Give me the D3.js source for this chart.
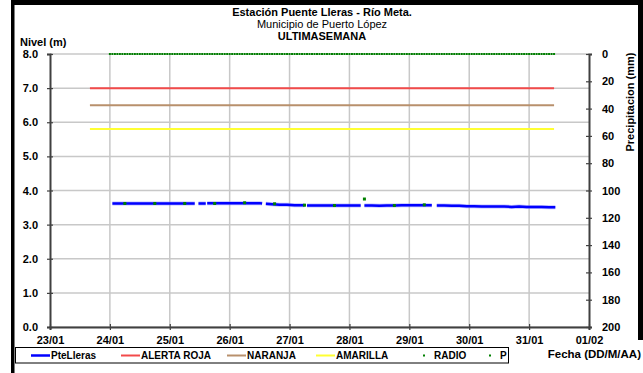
<!DOCTYPE html>
<html><head><meta charset="utf-8">
<script src="https://cdn.jsdelivr.net/npm/d3@7"></script>
<style>
html,body{margin:0;padding:0;background:#fff;}
svg{display:block;font-family:"Liberation Sans",Arial,sans-serif;}
</style></head>
<body>
<svg id="c" width="643" height="373"></svg>
<script>
// ---- data ----
const titleLines = ["Estación Puente Lleras - Río Meta.", "Municipio de Puerto López", "ULTIMASEMANA"];
const startDate = new Date(2013, 0, 24, 0, 0); // hours below are offsets from 24/01 00:00
const xDomainDates = [new Date(2013, 0, 23), new Date(2013, 1, 1)];
const levelTicks = [0, 1, 2, 3, 4, 5, 6, 7, 8];
const precipTicks = [0, 20, 40, 60, 80, 100, 120, 140, 160, 180, 200];

// PteLleras level (m): hour offset, value (null = gap)
const levelHours = [1, 4, 7, 10, 13, 16, 19, 22, 25, 28, 31, 34, 34.8,
  35.5, 38.4, 38.8,
  39, 42, 45, 48, 51, 54, 57, 60, 61, 61.6,
  62.5, 65, 68, 71, 74, 78, 78.6,
  79, 82, 85, 88, 91, 94, 97, 100.5, 101,
  102, 105, 108, 111, 114, 117, 120, 123, 126, 129, 130,
  131, 134, 137, 140, 143, 146, 149, 152, 155, 158, 161, 164, 167, 170, 173, 176, 178.5];
const levelValues = [3.62, 3.62, 3.62, 3.62, 3.62, 3.62, 3.62, 3.62, 3.62, 3.62, 3.62, 3.62, null,
  3.62, 3.62, null,
  3.63, 3.63, 3.63, 3.63, 3.63, 3.63, 3.63, 3.63, 3.62, null,
  3.61, 3.60, 3.58, 3.58, 3.57, 3.57, null,
  3.56, 3.56, 3.56, 3.56, 3.56, 3.56, 3.56, 3.56, null,
  3.56, 3.56, 3.55, 3.56, 3.56, 3.57, 3.57, 3.57, 3.57, 3.57, null,
  3.56, 3.56, 3.55, 3.55, 3.54, 3.54, 3.53, 3.53, 3.53, 3.53, 3.52, 3.53, 3.52, 3.52, 3.52, 3.51, 3.51];

// RADIO readings on level axis
const radioHours = [6, 18, 30, 42, 54, 66, 78, 90, 102, 114, 126];
const radioValues = [3.62, 3.62, 3.62, 3.62, 3.64, 3.61, 3.57, 3.56, 3.75, 3.56, 3.58];

// P precipitation (mm), hourly from 24/01 00:00 (179 readings)
const precipValues = [
  0,0,0,0,0,0,0,0,0,0,0,0,0,0,0,0,0,0,0,0,0,0,0,0,
  0,0,0,0,0,0,0,0,0,0,0,0,0,0,0,0,0,0,0,0,0,0,0,0,
  0,0,0,0,0,0,0,0,0,0,0,0,0,0,0,0,0,0,0,0,0,0,0,0,
  0,0,0,0,0,0,0,0,0,0,0,0,0,0,0,0,0,0,0,0,0,0,0,0,
  0,0,0,0,0,0,0,0,0,0,0,0,0,0,0,0,0,0,0,0,0,0,0,0,
  0,0,0,0,0,0,0,0,0,0,0,0,0,0,0,0,0,0,0,0,0,0,0,0,
  0,0,0,0,0,0,0,0,0,0,0,0,0,0,0,0,0,0,0,0,0,0,0,0,
  0,0,0,0,0,0,0,0,0,0,0];

// alert thresholds (m) and their time span (hour offsets)
const alertNames = ["ALERTA ROJA", "NARANJA", "AMARILLA"];
const alertLevels = [7.0, 6.5, 5.8];
const alertColors = ["#f24a4a", "#b8906c", "#ffff33"];
const alertSpanHours = [-8, 178];

const legendNames = ["PteLleras", "ALERTA ROJA", "NARANJA", "AMARILLA", "RADIO", "P"];

// ---- chart ----
const svg = d3.select("#c");
const hr = h => new Date(startDate.getTime() + h * 3600000);

const x = d3.scaleTime().domain(xDomainDates).range([50, 589]);
const yL = d3.scaleLinear().domain([0, 8]).range([327, 54]);
const yR = d3.scaleLinear().domain([0, 200]).range([54, 327]);

// frame
svg.append("rect").attr("x", 0).attr("y", 0).attr("width", 643).attr("height", 373).attr("fill", "#fff");
svg.append("rect").attr("x", 11).attr("y", 0).attr("width", 3.5).attr("height", 373).attr("fill", "#000");
svg.append("rect").attr("x", 11).attr("y", 0).attr("width", 632).attr("height", 5).attr("fill", "#000");
svg.append("rect").attr("x", 638).attr("y", 0).attr("width", 5).attr("height", 340).attr("fill", "#000");

// gridlines
const grid = svg.append("g");
grid.selectAll("line.h").data(levelTicks).join("line")
  .attr("x1", 50).attr("x2", 589).attr("y1", d => yL(d)).attr("y2", d => yL(d))
  .attr("stroke", "#c8c8c8").attr("stroke-width", 1.5);
const days = d3.timeDay.range(xDomainDates[0], d3.timeDay.offset(xDomainDates[1], 1));
grid.selectAll("line.v").data(days.slice(1, -1)).join("line")
  .attr("x1", d => x(d)).attr("x2", d => x(d)).attr("y1", 54).attr("y2", 327)
  .attr("stroke", "#c8c8c8").attr("stroke-width", 1.5);

// axes
const axStyle = g => {
  g.select(".domain").attr("stroke", "#404040").attr("stroke-width", 2);
  g.selectAll(".tick line").attr("stroke", "#404040").attr("stroke-width", 1.2);
  g.selectAll("text").attr("font-family", "Liberation Sans, Arial, sans-serif")
    .attr("font-weight", "bold").attr("font-size", 11).attr("fill", "#000");
};
const yAxisL = d3.axisLeft(yL).tickValues(levelTicks).tickFormat(d3.format(".1f")).tickSizeOuter(0).tickSize(3).tickPadding(9);
svg.append("g").attr("transform", "translate(50,0)").call(yAxisL).call(axStyle)
  .selectAll(".tick line").attr("x2", 3).attr("x1", -3);
const yAxisR = d3.axisRight(yR).tickValues(precipTicks).tickSizeOuter(0).tickSize(3).tickPadding(10);
svg.append("g").attr("transform", "translate(589,0)").call(yAxisR).call(axStyle)
  .selectAll(".tick line").attr("x1", -3).attr("x2", 3);
const xAxis = d3.axisBottom(x).tickValues(days.slice(0, 10)).tickFormat(d3.timeFormat("%d/%m")).tickSizeOuter(0).tickSize(3).tickPadding(6);
svg.append("g").attr("transform", "translate(0,327)").call(xAxis).call(axStyle)
  .selectAll(".tick line").attr("y1", -3).attr("y2", 3);

// alert lines
svg.append("g").selectAll("line").data(alertLevels).join("line")
  .attr("x1", x(hr(alertSpanHours[0]))).attr("x2", x(hr(alertSpanHours[1])))
  .attr("y1", d => yL(d)).attr("y2", d => yL(d))
  .attr("stroke", (d, i) => alertColors[i]).attr("stroke-width", 2);

// P precipitation dots
svg.append("g").selectAll("rect").data(precipValues).join("rect")
  .attr("x", (d, i) => x(hr(i)) - 1).attr("y", d => yR(d) - 1)
  .attr("width", 2).attr("height", 2).attr("fill", "#008000");

// level line
const levelData = levelHours.map((h, i) => ({t: hr(h), v: levelValues[i]}));
const line = d3.line().defined(d => d.v !== null).x(d => x(d.t)).y(d => yL(d.v));
svg.append("path").datum(levelData).attr("d", line).attr("fill", "none")
  .attr("stroke", "#8080ff").attr("stroke-width", 4).attr("stroke-opacity", 0.5);
svg.append("path").datum(levelData).attr("d", line).attr("fill", "none")
  .attr("stroke", "#0000ff").attr("stroke-width", 2.5);

// RADIO dots
svg.append("g").selectAll("rect").data(radioHours).join("rect")
  .attr("x", d => x(hr(d)) - 1.5).attr("y", (d, i) => yL(radioValues[i]) - 1.5)
  .attr("width", 3).attr("height", 3).attr("fill", "#008000");

// titles
const tg = svg.append("g").attr("text-anchor", "middle").attr("font-size", 11);
tg.append("text").attr("x", 322).attr("y", 16).attr("font-weight", "bold").text(titleLines[0]);
tg.append("text").attr("x", 322).attr("y", 28).text(titleLines[1]);
tg.append("text").attr("x", 322).attr("y", 40).attr("font-weight", "bold").text(titleLines[2]);
svg.append("text").attr("x", 20).attr("y", 46).attr("font-size", 11).attr("font-weight", "bold").text("Nivel (m)");
svg.append("text").attr("transform", "translate(634,102) rotate(-90)").attr("text-anchor", "middle")
  .attr("font-size", 11).attr("font-weight", "bold").text("Precipitacion (mm)");
svg.append("text").attr("x", 641).attr("y", 358).attr("text-anchor", "end")
  .attr("font-size", 11.5).attr("font-weight", "bold").text("Fecha (DD/M/AA)");

// legend
const lg = svg.append("g");
lg.append("rect").attr("x", 15.5).attr("y", 347.5).attr("width", 493).attr("height", 15.5)
  .attr("fill", "#fff").attr("stroke", "#000").attr("stroke-width", 1);
const legX = [31, 121, 227, 316, 424, 490];
const legColors = ["#0000ff", alertColors[0], alertColors[1], alertColors[2], "#008000", "#008000"];
legendNames.forEach((n, i) => {
  if (i < 4) {
    lg.append("line").attr("x1", legX[i]).attr("x2", legX[i] + 19).attr("y1", 355.5).attr("y2", 355.5)
      .attr("stroke", legColors[i]).attr("stroke-width", i === 0 ? 2.5 : 2);
    lg.append("text").attr("x", legX[i] + 20).attr("y", 359).attr("font-size", 10).attr("font-weight", "bold").text(n);
  } else {
    lg.append("rect").attr("x", legX[i] - 1).attr("y", 354.5).attr("width", 2).attr("height", 2).attr("fill", legColors[i]);
    lg.append("text").attr("x", legX[i] + 10).attr("y", 359).attr("font-size", 10).attr("font-weight", "bold").text(n);
  }
});
</script>
</body></html>
